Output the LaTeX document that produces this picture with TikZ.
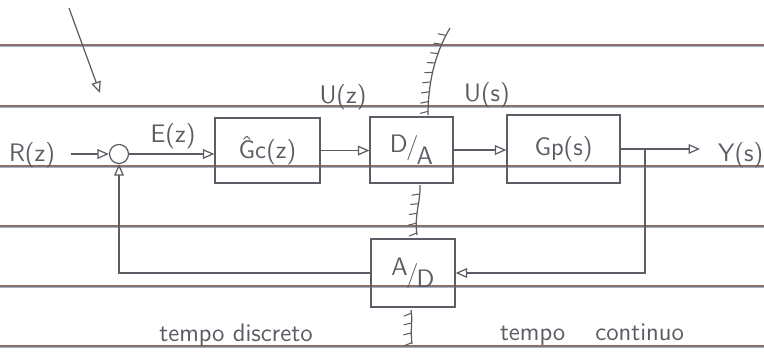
\documentclass[tikz,border=0pt]{standalone}
\usepackage{tikz}
\usetikzlibrary{arrows.meta, positioning, decorations.markings}
\definecolor{pencil}{RGB}{92,92,100}
\definecolor{rulebrown}{RGB}{140,112,98}
\definecolor{ruleblue}{RGB}{160,180,212}

\begin{document}
\begin{tikzpicture}[x=0.02cm, y=-0.02cm,
  sig/.style={-{Triangle[open, length=6.5pt, width=5.5pt]}, pencil, line width=0.7pt},
  blk/.style={draw=pencil, line width=0.7pt, minimum width=#1, minimum height=1.32cm, inner sep=0pt, text=pencil, font=\sffamily\Large},
  lbl/.style={text=pencil, font=\sffamily\Large},
  hatch/.style={pencil, line width=0.7pt, postaction={decorate},
    decoration={markings, mark=between positions 0.04 and 1 step 5.6pt with {\draw[pencil, line width=0.6pt] (0,0) -- (-1.2pt,4.5pt);}}}]
\useasboundingbox (0,0) rectangle (764,360);
% ruled paper (drawn first, lies under the sketch)
\foreach \ry in {45,106,166,226,286,346}{
  \draw[ruleblue, line width=0.6pt] (0,\ry+1.5) -- (764,\ry+1.5);
  \draw[rulebrown, line width=0.6pt] (0,\ry) -- (764,\ry);
}
% pointer at top left
\coordinate (p0) at (69,8);
\coordinate (p1) at (100,93);
\draw[sig] (p0) -- (p1);
% loop blocks
\node[draw=pencil, line width=0.7pt, circle, minimum size=0.38cm, inner sep=0pt] (sum) at (119,154) {};
\node[blk=2.1cm, minimum height=1.3cm] (gc) at (267.5,150.5) {\raisebox{-4pt}{\^{G}c(z)}};
\node[blk=1.66cm] (da) at (411.5,150) {\raisebox{1pt}{D}\kern-1pt/\kern-1pt\raisebox{-6pt}{A}};
\node[blk=2.26cm, minimum height=1.36cm] (gp) at (563.5,149) {\raisebox{-4pt}{Gp(s)}};
\node[blk=1.68cm, minimum height=1.36cm] (ad) at (413,273) {\raisebox{4pt}{A}\kern-1pt/\kern-1pt\raisebox{-3pt}{D}};
% signal names
\node[lbl] (r) at (32,155) {R(z)};
\node[lbl] (e) at (173,136) {E(z)};
\node[lbl] (uz) at (343,97) {U(z)};
\node[lbl] (us) at (487,95) {U(s)};
\node[lbl, anchor=west] (yout) at (712,155) {Y(s)};
\node[lbl] (td) at (236,335) {tempo discreto};
\node[lbl] (tc) at (592,335) {tempo\hspace{0.6cm}continuo};
% forward path
\draw[sig, shorten <=0.2cm] (r.east |- sum.west) -- (sum.west);
\draw[sig] (sum.east) -- (sum.east -| gc.west);
\draw[sig] (gc.east) -- (gc.east -| da.west);
\draw[sig] (da.east) -- (da.east -| gp.west);
\draw[sig, shorten >=0.24cm] (gp.east) -- (gp.east -| yout.west);
% feedback path
\coordinate (br) at (645,149);
\draw[sig] (br) |- (ad.east);
\draw[sig] (ad.west) -| (sum.south);
% border between discrete and continuous time
\draw[hatch] (428,115) .. controls (428,85) and (434,55) .. (450,28);
\draw[hatch] (417,235) .. controls (414,215) and (421,200) .. (420,185);
\draw[hatch] (412,344) .. controls (410,330) and (413,320) .. (411,310);
\end{tikzpicture}
\end{document}
